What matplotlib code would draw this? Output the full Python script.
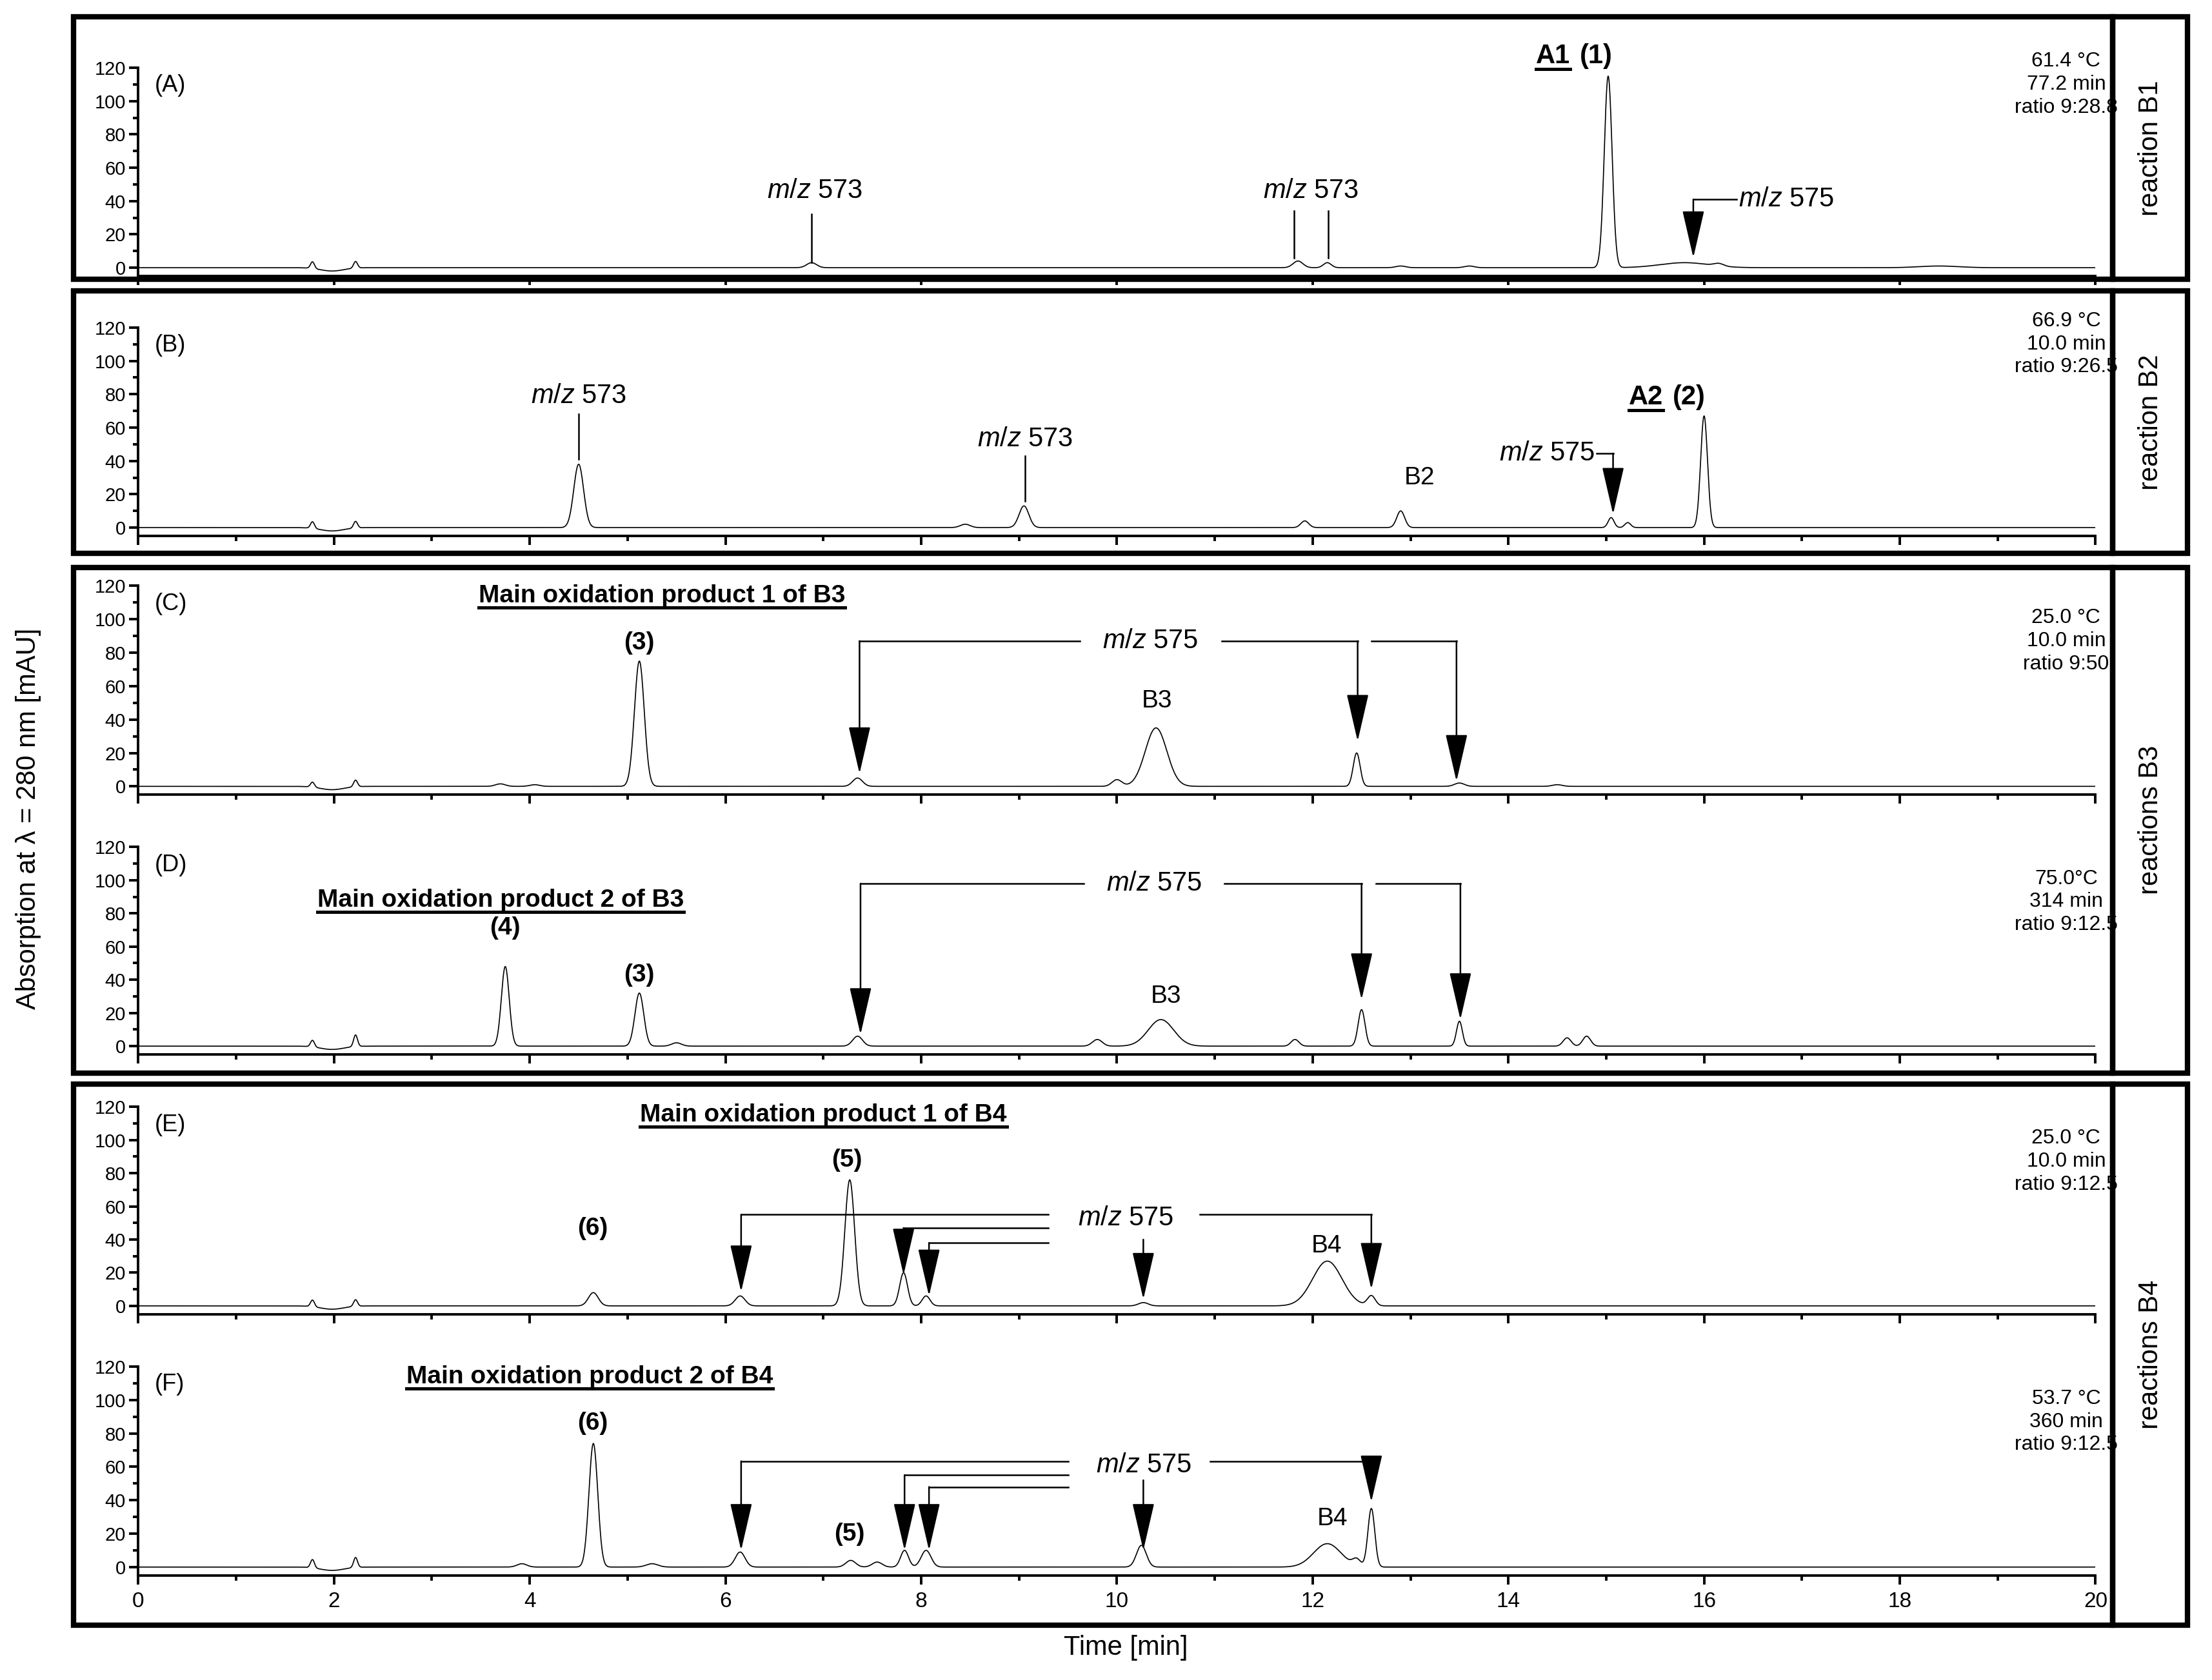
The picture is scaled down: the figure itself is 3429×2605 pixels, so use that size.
import numpy as np
import matplotlib.pyplot as plt
from matplotlib.patches import Rectangle
from matplotlib.lines import Line2D

plt.rcParams['font.family'] = ['Liberation Sans', 'DejaVu Sans']
plt.rcParams['mathtext.fontset'] = 'custom'
plt.rcParams['mathtext.rm'] = 'Liberation Sans'
plt.rcParams['mathtext.it'] = 'Liberation Sans:italic'
plt.rcParams['mathtext.bf'] = 'Liberation Sans:bold'

# peak tables: (retention time [min], height [mAU], width [min])
peaks_A = [(1.78, 4, 0.02), (2.22, 4, 0.02), (1.98, -2, 0.12), (6.88, 3, 0.05), (11.85, 4, 0.05),
           (12.15, 3, 0.04), (12.9, 1, 0.05), (13.6, 1, 0.05), (15.02, 115, 0.04), (15.8, 3, 0.25),
           (16.15, 1.5, 0.05), (18.4, 1, 0.2)]
peaks_B = [(1.78, 4, 0.02), (2.22, 4, 0.02), (1.98, -2, 0.12), (4.5, 38, 0.05), (8.45, 2, 0.05),
           (9.05, 13, 0.05), (11.92, 4, 0.04), (12.9, 10, 0.04), (15.05, 6, 0.03), (15.22, 3, 0.03),
           (16.0, 67, 0.035)]
peaks_C = [(1.78, 3, 0.02), (2.22, 4, 0.02), (1.98, -2, 0.12), (3.7, 1.5, 0.05), (4.05, 1, 0.05),
           (5.12, 75, 0.05), (7.35, 5, 0.05), (10.0, 4, 0.05), (10.4, 35, 0.11), (12.45, 20, 0.035),
           (13.5, 2, 0.05), (14.5, 1, 0.05)]
peaks_D = [(1.78, 4, 0.02), (2.22, 7, 0.02), (1.98, -2, 0.12), (3.75, 48, 0.04), (5.12, 32, 0.045),
           (5.5, 2, 0.05), (7.35, 6, 0.05), (9.8, 4, 0.05), (10.45, 16, 0.13), (11.82, 4, 0.04),
           (12.5, 22, 0.035), (13.5, 15, 0.03), (14.6, 5, 0.04), (14.8, 6, 0.04)]
peaks_E = [(1.78, 4, 0.02), (2.22, 4, 0.02), (1.98, -2, 0.12), (4.65, 8, 0.05), (6.15, 6, 0.05),
           (7.27, 76, 0.05), (7.82, 20, 0.04), (8.05, 6, 0.04), (10.27, 2, 0.05), (12.15, 27, 0.15),
           (12.6, 6, 0.04)]
peaks_F = [(1.78, 5, 0.02), (2.22, 6, 0.02), (1.98, -2, 0.12), (3.92, 2, 0.05), (4.65, 74, 0.045),
           (5.25, 2, 0.06), (6.15, 9, 0.05), (7.28, 4, 0.05), (7.55, 3, 0.05), (7.83, 10, 0.04),
           (8.05, 10, 0.05), (10.25, 13, 0.05), (12.15, 14, 0.14), (12.45, 4, 0.04), (12.6, 35, 0.035)]

panel_names = ['(A)', '(B)', '(C)', '(D)', '(E)', '(F)']
panel_peaks = [peaks_A, peaks_B, peaks_C, peaks_D, peaks_E, peaks_F]
info_texts = ['61.4 °C\n77.2 min\nratio 9:28.8', '66.9 °C\n10.0 min\nratio 9:26.5',
              '25.0 °C\n10.0 min\nratio 9:50', '75.0°C\n314 min\nratio 9:12.5',
              '25.0 °C\n10.0 min\nratio 9:12.5', '53.7 °C\n360 min\nratio 9:12.5']
side_labels = ['reaction B1', 'reaction B2', 'reactions B3', 'reactions B4']

# layout in pixels of a 1568 x 1190 canvas
W, H = 1568.0, 1190.0
y120 = [48, 232, 415, 600, 784, 968]
y0 = [189.6, 373.7, 557, 741, 925, 1110]
boxes = [(12, 198), (206, 392), (402, 760), (768, 1151)]

fig = plt.figure(figsize=(17.15, 13.025), dpi=200)
t = np.linspace(0, 20, 6001)

axes = []
for i in range(6):
    top = y120[i]
    bot = y0[i] + 5 * (y0[i] - y120[i]) / 120
    ax = fig.add_axes([98 / W, 1 - bot / H, (1485 - 98) / W, (bot - top) / H])
    sig = np.zeros_like(t)
    for c, h, w in panel_peaks[i]:
        sig += h * np.exp(-0.5 * ((t - c) / w) ** 2)
    ax.plot(t, sig, color='black', lw=0.6)
    ax.set_xlim(0, 20)
    ax.set_ylim(-5, 120)
    for s in ['top', 'right']:
        ax.spines[s].set_visible(False)
    for s in ['left', 'bottom']:
        ax.spines[s].set_linewidth(1.4)
    ax.spines['left'].set_bounds(-5, 120)
    ax.set_yticks(np.arange(0, 121, 20))
    ax.set_yticks(np.arange(0, 121, 10), minor=True)
    ax.set_xticks(np.arange(0, 21, 2))
    ax.set_xticks(np.arange(1, 20, 2), minor=True)
    ax.tick_params(which='major', direction='out', length=5, width=1.4, labelsize=10.5, pad=2)
    ax.tick_params(which='minor', direction='out', length=3, width=1.4)
    if i < 5:
        ax.tick_params(axis='x', labelbottom=False)
    else:
        ax.tick_params(axis='x', labelsize=12, pad=4)
    ax.patch.set_alpha(0)
    ax.text(0.17, 116, panel_names[i], fontsize=13, va='top', ha='left')
    ax.text(19.7, 110 if i < 2 else 87, info_texts[i], fontsize=11.5, ha='center', va='center',
            linespacing=1.25)
    axes.append(ax)

for (ya, yb), lab in zip(boxes, side_labels):
    fig.patches.append(Rectangle((52 / W, 1 - yb / H), (1497 - 52) / W, (yb - ya) / H,
                                 transform=fig.transFigure, fill=False, lw=3, color='black'))
    fig.patches.append(Rectangle((1497 / W, 1 - yb / H), (1550 - 1497) / W, (yb - ya) / H,
                                 transform=fig.transFigure, fill=False, lw=3, color='black'))
    fig.text(1524 / W, 1 - (ya + yb) / 2 / H, lab, rotation=90, fontsize=15, ha='center', va='center')

fig.text(20 / W, 1 - 580 / H, 'Absorption at λ = 280 nm [mAU]', rotation=90, fontsize=15,
         ha='center', va='center')
fig.text(798 / W, 1 - 1167 / H, 'Time [min]', fontsize=15, ha='center', va='center')

lk = dict(color='black', lw=0.9)
ap = dict(arrowstyle='-|>,head_length=1.3,head_width=0.3', color='black', lw=0.9, shrinkA=0,
          shrinkB=0, mutation_scale=18)
mz573 = r'$\mathit{m/z\ 573}$'
mz575 = r'$\mathit{m/z}$ 575'
underlined = []


def uline(ax, x, y, s, **kw):
    txt = ax.text(x, y, s, fontweight='bold', clip_on=False, **kw)
    underlined.append(txt)
    return txt


def arrow(ax, x, ytop, ytip):
    ax.annotate('', xy=(x, ytip), xytext=(x, ytop), arrowprops=ap, annotation_clip=False)


def elbow(ax, x1, x2, y, ytip):
    ax.plot([x1, x2], [y, y], **lk, clip_on=False)
    arrow(ax, x2, y, ytip)


# (A)
ax = axes[0]
ax.text(6.91, 46, mz573, fontsize=15, ha='center', va='center')
ax.plot([6.88, 6.88], [32, 3], **lk)
ax.text(11.98, 46, mz573, fontsize=15, ha='center', va='center')
ax.plot([11.81, 11.81], [34, 6], **lk)
ax.plot([12.16, 12.16], [34, 6], **lk)
uline(ax, 14.63, 127, 'A1', fontsize=15, ha='right', va='center')
ax.text(14.73, 127, '(1)', fontsize=15, fontweight='bold', ha='left', va='center', clip_on=False)
ax.text(16.35, 41, mz575, fontsize=15, ha='left', va='center')
elbow(ax, 16.33, 15.89, 41, 6)

# (B)
ax = axes[1]
ax.text(4.5, 79, mz573, fontsize=15, ha='center', va='center')
ax.plot([4.5, 4.5], [68, 41], **lk)
ax.text(9.06, 53, mz573, fontsize=15, ha='center', va='center')
ax.plot([9.06, 9.06], [43, 16], **lk)
ax.text(13.09, 30, 'B2', fontsize=14, ha='center', va='center')
ax.text(14.88, 44.5, mz575, fontsize=15, ha='right', va='center')
elbow(ax, 14.9, 15.07, 44.5, 8)
uline(ax, 15.58, 78, 'A2', fontsize=15, ha='right', va='center')
ax.text(15.68, 78, '(2)', fontsize=15, fontweight='bold', ha='left', va='center')

# (C)
ax = axes[2]
uline(ax, 5.35, 114, 'Main oxidation product 1 of B3', fontsize=14, ha='center', va='center')
ax.text(5.12, 86, '(3)', fontsize=14, fontweight='bold', ha='center', va='center')
ax.text(10.34, 87, mz575, fontsize=15, ha='center', va='center')
elbow(ax, 9.62, 7.37, 87, 7.6)
elbow(ax, 11.07, 12.46, 87, 27)
elbow(ax, 12.6, 13.47, 87, 3)
ax.text(10.41, 51, 'B3', fontsize=14, ha='center', va='center')

# (D)
ax = axes[3]
uline(ax, 3.7, 88, 'Main oxidation product 2 of B3', fontsize=14, ha='center', va='center')
ax.text(3.75, 71, '(4)', fontsize=14, fontweight='bold', ha='center', va='center')
ax.text(5.12, 43, '(3)', fontsize=14, fontweight='bold', ha='center', va='center')
ax.text(10.38, 98, mz575, fontsize=15, ha='center', va='center')
elbow(ax, 9.66, 7.38, 98, 7)
elbow(ax, 11.1, 12.5, 98, 28)
elbow(ax, 12.65, 13.51, 98, 16)
ax.text(10.5, 30, 'B3', fontsize=14, ha='center', va='center')

# (E)
ax = axes[4]
uline(ax, 7.0, 115, 'Main oxidation product 1 of B4', fontsize=14, ha='center', va='center')
ax.text(7.24, 88, '(5)', fontsize=14, fontweight='bold', ha='center', va='center')
ax.text(4.64, 46.5, '(6)', fontsize=14, fontweight='bold', ha='center', va='center')
ax.text(10.09, 53, mz575, fontsize=15, ha='center', va='center')
elbow(ax, 9.3, 6.16, 55, 8.5)
elbow(ax, 9.3, 7.82, 47, 18.6)
elbow(ax, 9.3, 8.08, 38, 6)
arrow(ax, 10.27, 40, 4)
elbow(ax, 10.85, 12.6, 55, 10)
ax.text(12.14, 36, 'B4', fontsize=14, ha='center', va='center')

# (F)
ax = axes[5]
uline(ax, 4.61, 114, 'Main oxidation product 2 of B4', fontsize=14, ha='center', va='center')
ax.text(4.64, 86, '(6)', fontsize=14, fontweight='bold', ha='center', va='center')
ax.text(7.27, 19.5, '(5)', fontsize=14, fontweight='bold', ha='center', va='center')
ax.text(10.27, 61, mz575, fontsize=15, ha='center', va='center')
elbow(ax, 9.5, 6.16, 63.4, 10)
elbow(ax, 9.5, 7.83, 55, 10)
elbow(ax, 9.5, 8.08, 48, 10)
arrow(ax, 10.27, 52, 10)
elbow(ax, 10.95, 12.6, 63.4, 39)
ax.text(12.2, 29, 'B4', fontsize=14, ha='center', va='center')

# underline the bold labels
fig.canvas.draw()
inv = fig.transFigure.inverted()
for txt in underlined:
    bb = txt.get_window_extent()
    (x0, yb), (x1, _) = inv.transform([(bb.x0, bb.y0), (bb.x1, bb.y1)])
    fig.add_artist(Line2D([x0, x1], [yb, yb], color='black', lw=1.8, transform=fig.transFigure))

fig.savefig('out.png', dpi=200)
